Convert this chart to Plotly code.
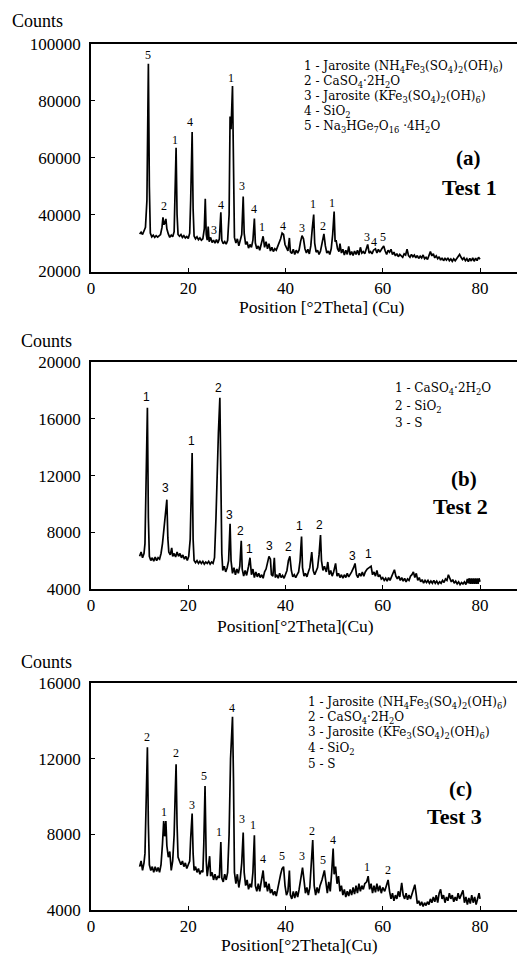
import plotly.graph_objects as go

W, H = 525, 955

# ---------------- Data: Test 1 (panel a) ----------------
a_x = [10.0, 10.3, 10.6, 10.9, 11.2, 11.5, 11.8, 12.0, 12.2, 12.5, 12.8, 13.1, 13.4, 13.7, 14.0, 14.3, 14.6, 14.8, 15.0, 15.2,
       15.4, 15.6, 15.9, 16.2, 16.5, 16.8, 17.1, 17.3, 17.5, 17.7, 17.9, 18.2, 18.5, 18.8, 19.1, 19.4, 19.7, 20.0, 20.3, 20.5,
       20.8, 21.0, 21.2, 21.5, 21.8, 22.1, 22.4, 22.7, 23.0, 23.3, 23.5, 23.7, 23.9, 24.1, 24.3, 24.6, 24.9, 25.2, 25.5, 25.8,
       26.1, 26.4, 26.7, 26.9, 27.2, 27.5, 27.8, 28.1, 28.4, 28.6, 28.8, 29.1, 29.3, 29.5, 29.8, 30.1, 30.4, 30.7, 31.0, 31.3,
       31.5, 31.8, 32.1, 32.4, 32.7, 33.0, 33.3, 33.6, 33.8, 34.1, 34.4, 34.7, 35.0, 35.4, 35.7, 36.0, 36.3, 36.6, 36.9, 37.2,
       37.5, 37.8, 38.1, 38.4, 38.7, 39.0, 39.3, 39.6, 39.9, 40.2, 40.5, 40.8, 41.0, 41.3, 41.6, 41.9, 42.2, 42.5, 42.8, 43.1,
       43.4, 43.7, 44.0, 44.3, 44.6, 44.9, 45.2, 45.5, 45.8, 46.0, 46.3, 46.6, 46.9, 47.2, 47.5, 47.9, 48.2, 48.5, 48.8, 49.1,
       49.4, 49.7, 50.0, 50.2, 50.4, 50.7, 51.0, 51.2, 51.5, 51.8, 52.1, 52.4, 52.7, 53.0, 53.3, 53.6, 53.9, 54.2, 54.5, 54.8,
       55.1, 55.4, 55.7, 56.0, 56.3, 56.6, 56.9, 57.2, 57.5, 57.8, 58.1, 58.5, 58.8, 59.1, 59.4, 59.8, 60.2, 60.5, 60.8, 61.1,
       61.4, 61.7, 62.0, 62.3, 62.6, 62.9, 63.2, 63.5, 63.8, 64.1, 64.4, 64.7, 65.0, 65.3, 65.6, 65.9, 66.2, 66.5, 66.8, 67.1,
       67.4, 67.7, 68.0, 68.3, 68.6, 68.9, 69.2, 69.5, 69.8, 70.1, 70.4, 70.7, 71.0, 71.3, 71.6, 71.9, 72.2, 72.5, 72.8, 73.1,
       73.4, 73.7, 74.0, 74.3, 74.6, 74.9, 75.2, 75.5, 75.8, 76.1, 76.4, 76.7, 77.0, 77.3, 77.6, 77.9, 78.2, 78.5, 78.8, 79.1,
       79.4, 79.7, 80.0]
a_y = [33200, 33800, 33000, 34200, 35500, 45000, 93000, 50000, 33500, 32200, 32800, 32000, 32600, 32100, 32500, 33000, 35500, 39000, 36500, 37000,
       38500, 35000, 33200, 32000, 32800, 32200, 34000, 48000, 63500, 40000, 33000, 32400, 33000, 32000, 32600, 31800, 32300, 31600, 33500, 45000,
       69000, 42000, 32500, 31500, 32200, 31200, 31800, 31000, 31500, 35000, 45600, 33000, 31000, 35800, 30500, 32000, 30200, 31000, 30000, 31200,
       30000, 31500, 40800, 31000, 29800, 30500, 29600, 31000, 40000, 74500, 70000, 85200, 55000, 32000, 30000, 31500, 29000, 31000, 33000, 46400,
       33500, 29500, 30500, 28200, 29500, 28500, 31000, 38600, 30000, 28000, 29000, 27500, 29500, 32400, 28500, 30500, 28000, 29800, 27200, 28500,
       27000, 28000, 27500, 28800, 30500, 31500, 33500, 33000, 29500, 28000, 27200, 31800, 27000, 26300, 27800, 26000, 27500, 26500, 27600, 30500,
       32600, 31500, 28000, 26500, 27800, 26200, 29000, 35000, 40000, 30000, 26800, 27500, 26000, 27200, 29500, 33200, 29000, 26500, 27200, 26000,
       28000, 33000, 41100, 30500, 31000, 28000, 27000, 29800, 26500, 27800, 25800, 27500, 26000, 28800, 25800, 27000, 25600, 27200, 26000, 27500,
       25800, 28500, 26500, 27000, 26200, 28000, 29500, 26500, 27000, 26200, 27500, 28000, 26500, 27800, 26800, 28000, 29000, 27200, 26000, 27500,
       26800, 27800, 26000, 26800, 25500, 26300, 25200, 26000, 25500, 25000, 26200, 25800, 27800, 25600, 25000, 26000, 25200, 25800, 24800, 25600,
       24600, 25400, 24800, 25800, 24500, 25000, 24200, 25500, 27000, 25500, 26200, 24800, 25500, 24500, 25200, 24000, 24800, 23800, 24600, 24000,
       24800, 23800, 24400, 23600, 24500, 23800, 24600, 25200, 26000, 25000, 24200, 24800, 23800, 24500, 23500, 24600, 23700, 24800, 23600, 24700,
       23800, 25000, 24300]
a_lab_x = [11.8, 15.0, 17.3, 20.4, 25.2, 26.7, 28.8, 31.1, 33.5, 35.1, 39.4, 43.3, 45.7, 47.8, 49.6, 56.7, 58.1, 60.0]
a_lab_y = [96100, 43200, 66300, 72700, 34700, 43500, 88000, 49900, 41800, 35700, 35900, 35400, 43900, 35900, 44200, 32200, 30300, 32200]
a_lab_t = ["5", "2", "1", "4", "3", "4", "1", "3", "4", "1", "4", "3", "1", "2", "1", "3", "4", "5"]
a_legend = ["1 - Jarosite (NH<sub>4</sub>Fe<sub>3</sub>(SO<sub>4</sub>)<sub>2</sub>(OH)<sub>6</sub>)",
            "2 - CaSO<sub>4</sub>·2H<sub>2</sub>O",
            "3 - Jarosite (KFe<sub>3</sub>(SO<sub>4</sub>)<sub>2</sub>(OH)<sub>6</sub>)",
            "4 - SiO<sub>2</sub>",
            "5 - Na<sub>3</sub>HGe<sub>7</sub>O<sub>16</sub> ·4H<sub>2</sub>O"]
a_ticks = [20000, 40000, 60000, 80000, 100000]

# ---------------- Data: Test 2 (panel b) ----------------
b_x = [10.0, 10.3, 10.6, 10.9, 11.1, 11.3, 11.6, 11.8, 12.0, 12.3, 12.6, 12.9, 13.2, 13.5, 13.8, 14.1, 14.4, 14.7, 15.0, 15.3,
       15.6, 15.8, 16.0, 16.3, 16.6, 16.8, 17.1, 17.4, 17.7, 18.0, 18.3, 18.6, 18.9, 19.2, 19.5, 19.8, 20.1, 20.4, 20.6, 20.8,
       21.0, 21.2, 21.5, 21.8, 22.1, 22.4, 22.7, 23.0, 23.3, 23.6, 23.9, 24.2, 24.5, 24.8, 25.1, 25.4, 25.7, 26.0, 26.2, 26.5,
       26.7, 26.9, 27.1, 27.4, 27.7, 28.0, 28.3, 28.6, 28.8, 29.1, 29.4, 29.7, 30.0, 30.3, 30.6, 30.9, 31.1, 31.4, 31.7, 32.0,
       32.4, 32.7, 33.0, 33.3, 33.6, 33.9, 34.2, 34.5, 34.8, 35.1, 35.4, 35.7, 36.0, 36.3, 36.6, 36.9, 37.1, 37.4, 37.7, 37.9,
       38.2, 38.5, 38.8, 39.1, 39.4, 39.7, 40.0, 40.3, 40.6, 40.9, 41.2, 41.5, 41.8, 42.1, 42.4, 42.7, 43.0, 43.3, 43.5, 43.8,
       44.1, 44.4, 44.7, 45.0, 45.4, 45.7, 46.0, 46.3, 46.6, 46.9, 47.2, 47.4, 47.7, 48.0, 48.4, 48.7, 49.0, 49.3, 49.6, 49.9,
       50.3, 50.6, 50.9, 51.2, 51.5, 51.8, 52.1, 52.4, 52.7, 53.0, 53.3, 53.6, 54.0, 54.3, 54.6, 54.9, 55.2, 55.5, 55.8, 56.1,
       56.4, 56.8, 57.2, 57.6, 57.9, 58.2, 58.5, 58.8, 59.1, 59.4, 59.7, 60.0, 60.3, 60.6, 60.9, 61.2, 61.5, 61.8, 62.1, 62.4,
       62.7, 63.0, 63.3, 63.6, 63.9, 64.2, 64.5, 64.8, 65.1, 65.4, 65.7, 66.0, 66.3, 66.6, 66.9, 67.2, 67.5, 67.8, 68.1, 68.4,
       68.7, 69.0, 69.3, 69.6, 69.9, 70.2, 70.5, 70.8, 71.1, 71.4, 71.7, 72.0, 72.3, 72.6, 72.9, 73.2, 73.5, 73.8, 74.1, 74.4,
       74.7, 75.0, 75.3, 75.6, 75.9, 76.2, 76.5, 76.8, 77.1, 77.4, 77.6, 77.8, 78.0, 78.2, 78.4, 78.6, 78.8, 79.0, 79.2, 79.4,
       79.6, 79.8, 80.0]
b_y = [6300, 6600, 6200, 6500, 7200, 11000, 16800, 9000, 6300, 6000, 6200, 5950, 6250, 6000, 6200, 6100, 6500, 7200, 8200, 9000,
       10300, 7600, 6600, 6400, 6900, 6300, 6500, 6250, 6600, 6300, 6500, 6200, 6400, 6100, 6300, 6000, 6300, 7500, 10500, 13600,
       7500, 6000, 5850, 6000, 5800, 5950, 5800, 5950, 5750, 5900, 5800, 5950, 5750, 5900, 5800, 6200, 9000, 14000, 15000, 17500,
       11000, 6500, 5300, 5600, 5200, 5500, 6000, 8600, 6000, 5100, 5500, 5000, 5400, 5100, 5600, 7400, 5400, 4900, 5300, 4950,
       5600, 6200, 5000, 5400, 4800, 5200, 4850, 5100, 4800, 5000, 4750, 5200, 5400, 5800, 6300, 6100, 5000, 4900, 6200, 4800,
       5000, 4750, 5100, 4800, 4950, 4750, 5000, 5300, 6000, 6300, 5300, 4850, 5000, 4800, 5000, 5200, 6000, 7700, 5500, 4900,
       5100, 4850, 5200, 5500, 6600, 5300, 5000, 5200, 5500, 6400, 7800, 6000, 5300, 5600, 5200, 5900, 5000, 5300, 4900, 5200,
       5800, 4900, 5100, 4800, 5000, 4750, 5000, 4800, 5100, 4850, 5000, 5200, 5500, 5800, 5000, 4800, 5100, 4900, 5200, 4900,
       5200, 5400, 5500, 5600, 5000, 5200, 4900, 5300, 4850, 5000, 4700, 4800, 4600, 4750, 4550, 4800, 4600, 4900, 5100, 5350,
       4900, 4700, 4900, 4600, 4800, 4550, 4750, 4500, 4700, 4600, 4900, 5000, 5200, 4800, 5100, 4600, 4800, 4500, 4650, 4400,
       4600, 4450, 4600, 4400, 4550, 4400, 4600, 4400, 4550, 4350, 4500, 4400, 4600, 4450, 4700, 4600, 5000, 4700, 4500, 4650,
       4400, 4550, 4350, 4500, 4300, 4450, 4350, 4500, 4300, 4700, 4400, 4750, 4350, 4750, 4350, 4750, 4350, 4750, 4350, 4750,
       4350, 4750, 4500]
b_lab_x = [11.5, 15.4, 20.7, 26.3, 28.5, 30.7, 32.6, 36.7, 40.7, 42.8, 47.0, 53.8, 57.0]
b_lab_y = [17530, 11110, 14470, 18170, 9220, 8120, 6820, 7060, 6940, 8470, 8540, 6310, 6470]
b_lab_t = ["1", "3", "1", "2", "3", "2", "1", "3", "2", "1", "2", "3", "1"]
b_legend = ["1 - CaSO<sub>4</sub>·2H<sub>2</sub>O",
            "2 - SiO<sub>2</sub>",
            "3 - S"]
b_ticks = [4000, 8000, 12000, 16000, 20000]

# ---------------- Data: Test 3 (panel c) ----------------
c_x = [10.0, 10.3, 10.6, 10.9, 11.1, 11.3, 11.6, 11.8, 12.0, 12.3, 12.6, 12.9, 13.2, 13.5, 13.8, 14.1, 14.4, 14.7, 14.95, 15.15,
       15.4, 15.6, 15.9, 16.2, 16.5, 16.8, 17.1, 17.3, 17.5, 17.7, 17.9, 18.2, 18.5, 18.8, 19.1, 19.4, 19.7, 20.0, 20.3, 20.5,
       20.8, 21.0, 21.2, 21.5, 21.8, 22.1, 22.4, 22.7, 23.0, 23.2, 23.45, 23.7, 23.9, 24.1, 24.4, 24.6, 24.9, 25.2, 25.5, 25.8,
       26.1, 26.4, 26.7, 26.9, 27.2, 27.5, 27.8, 28.1, 28.4, 28.7, 29.1, 29.3, 29.5, 29.8, 30.1, 30.4, 30.7, 31.0, 31.3, 31.5,
       31.8, 32.1, 32.4, 32.7, 33.0, 33.3, 33.6, 33.8, 34.1, 34.4, 34.7, 35.0, 35.4, 35.7, 36.0, 36.3, 36.6, 36.9, 37.2, 37.5,
       37.8, 38.1, 38.4, 38.7, 39.0, 39.3, 39.6, 39.9, 40.2, 40.5, 40.8, 41.0, 41.3, 41.6, 41.9, 42.2, 42.5, 42.8, 43.1, 43.5,
       43.8, 44.1, 44.4, 44.7, 45.0, 45.3, 45.6, 45.9, 46.2, 46.5, 46.8, 47.1, 47.5, 48.0, 48.3, 48.6, 48.9, 49.2, 49.5, 49.8,
       50.0, 50.3, 50.6, 50.9, 51.2, 51.5, 51.8, 52.1, 52.4, 52.7, 53.0, 53.3, 53.6, 53.9, 54.2, 54.5, 54.8, 55.1, 55.4, 55.7,
       56.0, 56.3, 56.7, 57.0, 57.3, 57.6, 57.9, 58.2, 58.5, 58.8, 59.1, 59.4, 59.7, 60.0, 60.4, 60.8, 61.1, 61.4, 61.7, 62.0,
       62.3, 62.6, 62.9, 63.2, 63.5, 63.9, 64.2, 64.5, 64.8, 65.1, 65.4, 65.7, 66.0, 66.3, 66.6, 66.9, 67.1, 67.4, 67.7, 68.0,
       68.3, 68.6, 68.9, 69.2, 69.5, 69.8, 70.1, 70.4, 70.7, 71.0, 71.3, 71.6, 71.9, 72.2, 72.5, 72.8, 73.1, 73.4, 73.7, 74.0,
       74.3, 74.6, 74.9, 75.2, 75.5, 75.8, 76.1, 76.5, 76.8, 77.1, 77.4, 77.7, 78.0, 78.3, 78.6, 78.9, 79.2, 79.5, 79.8, 80.0]
c_y = [6300, 6600, 6100, 6500, 7000, 9500, 12600, 8500, 6400, 6100, 6300, 6000, 6300, 6050, 6250, 6000, 6400, 7500, 8700, 7900,
       8700, 7400, 6800, 7100, 6100, 6600, 8000, 10000, 11700, 8500, 6800, 6600, 6400, 6600, 6300, 6500, 6200, 6400, 6600, 7800,
       9100, 7000, 6100, 6300, 6000, 6200, 5900, 6100, 6000, 7500, 10550, 6600, 5800, 6200, 6850, 5800, 6000, 5600, 5900, 5600,
       5800, 5700, 7600, 5700, 5500, 5900, 5600, 6000, 8000, 12000, 14200, 11000, 6000, 5400, 5900, 5200, 5700, 6500, 8100, 6000,
       5300, 5600, 5100, 5400, 5200, 6000, 7950, 5300, 5000, 5400, 5000, 5500, 6100, 5200, 5500, 5000, 5400, 4900, 5100, 4800,
       5000, 4750, 5200, 5600, 5900, 6200, 6300, 5300, 4800, 5000, 6100, 4800, 4600, 5000, 4650, 5000, 4700, 5100, 5700, 6250,
       5600, 4900, 5200, 4800, 5200, 6300, 7700, 5300, 4800, 5200, 4900, 5300, 5600, 6100, 5300, 4900, 5500, 5000, 6000, 7250,
       5900, 6300, 5400, 5800, 5000, 5300, 4800, 5100, 4700, 5000, 4750, 5100, 4800, 5200, 4850, 5300, 4900, 5400, 5000, 5300,
       5100, 5400, 5500, 5800, 5100, 5400, 4900, 5300, 4950, 5400, 5000, 5300, 4900, 5200, 5000, 5400, 5600, 5000, 4600, 4900,
       4500, 4800, 4600, 5000, 4700, 5450, 4800, 4600, 4900, 4550, 4800, 4600, 4900, 5100, 5350, 4800, 4350, 4500, 4250, 4450,
       4200, 4400, 4250, 4450, 4300, 4600, 4400, 4700, 4450, 4800, 4400, 4900, 5100, 4600, 4800, 4400, 4700, 4500, 4900, 4600,
       4800, 4450, 4700, 4500, 4900, 4600, 4800, 5050, 4400, 4700, 4300, 4650, 4350, 4800, 4400, 4700, 4300, 4600, 4900, 4600]
c_lab_x = [11.5, 15.1, 17.5, 20.8, 23.3, 26.4, 28.9, 31.0, 33.4, 35.3, 39.2, 43.3, 45.4, 47.8, 49.7, 56.7, 61.0]
c_lab_y = [13150, 9200, 12300, 9550, 11100, 8150, 14690, 8800, 8500, 6700, 6840, 6840, 8200, 6660, 7710, 6280, 6130]
c_lab_t = ["2", "1", "2", "3", "5", "1", "4", "3", "1", "4", "5", "3", "2", "5", "4", "1", "2"]
c_legend = ["1 - Jarosite (NH<sub>4</sub>Fe<sub>3</sub>(SO<sub>4</sub>)<sub>2</sub>(OH)<sub>6</sub>)",
            "2 - CaSO<sub>4</sub>·2H<sub>2</sub>O",
            "3 - Jarosite (KFe<sub>3</sub>(SO<sub>4</sub>)<sub>2</sub>(OH)<sub>6</sub>)",
            "4 - SiO<sub>2</sub>",
            "5 - S"]
c_ticks = [4000, 8000, 12000, 16000]

x_ticks = [0, 20, 40, 60, 80]

# ---------------- Figure ----------------
SERIF = "Liberation Serif"
WIDE_SERIF = "DejaVu Serif"
SANS = "Liberation Sans"

# empirical correction between requested pixel positions and the photographed page
OX, OY, SY = 7.0, 17.0, 0.982
ML = 90 - OX  # left margin so the y-axis lands at x = 90


def X(v):
    return v - OX


def Y(v):
    return (v - OY) / SY


def px(v):
    # target picture pixel x -> paper x (paper spans the plot area between the margins)
    return (X(v) - ML) / (W - ML)


def py(v):
    return 1 - Y(v) / H


fig = go.Figure()
for i, (xs, ys) in enumerate([(a_x, a_y), (b_x, b_y), (c_x, c_y)]):
    suf = "" if i == 0 else str(i + 1)
    fig.add_trace(go.Scatter(x=xs, y=ys, mode="lines",
                             line=dict(color="black", width=1.7),
                             xaxis="x" + suf, yaxis="y" + suf,
                             hoverinfo="skip", showlegend=False))

tickfont = dict(family=SERIF, size=17, color="black")
x_span = (W - ML) / 4.8625
xbase = dict(range=[0, x_span], tickvals=x_ticks, ticktext=[str(t) for t in x_ticks],
             showline=True, linecolor="black", linewidth=1.6, mirror=True,
             ticks="inside", ticklen=4, tickcolor="black", tickwidth=1,
             showgrid=False, zeroline=False, tickfont=tickfont, fixedrange=True)
ybase = dict(showline=True, linecolor="black", linewidth=1.6, mirror=False,
             ticks="inside", ticklen=4, tickcolor="black", tickwidth=1,
             ticklabelstandoff=5,
             showgrid=False, zeroline=False, tickfont=tickfont, fixedrange=True)

# plot-area pixel bounds (top, bottom) in target picture pixels
panels = [(44, 272), (363, 590), (684, 912)]
ranges = [[20000, 100000], [4000, 20000], [4000, 16000]]
tick_sets = [a_ticks, b_ticks, c_ticks]

layout = dict(width=W, height=H, margin=dict(l=ML, r=0, t=0, b=0),
              paper_bgcolor="white", plot_bgcolor="white", showlegend=False)
for i in range(3):
    suf = "" if i == 0 else str(i + 1)
    top, bot = panels[i]
    layout["xaxis" + suf] = dict(xbase, domain=[0, 1], anchor="y" + suf)
    layout["yaxis" + suf] = dict(ybase, domain=[py(bot), py(top)], anchor="x" + suf,
                                 range=ranges[i], tickvals=tick_sets[i],
                                 ticktext=[str(t) for t in tick_sets[i]])
fig.update_layout(**layout)

ann = []
# Peak labels
for i, (lx, ly, lt, fam) in enumerate([(a_lab_x, a_lab_y, a_lab_t, SERIF),
                                        (b_lab_x, b_lab_y, b_lab_t, SANS),
                                        (c_lab_x, c_lab_y, c_lab_t, SERIF)]):
    suf = "" if i == 0 else str(i + 1)
    for x, y, t in zip(lx, ly, lt):
        ann.append(dict(x=x, y=y, xref="x" + suf, yref="y" + suf, text=t, showarrow=False,
                        xanchor="center", yanchor="middle",
                        font=dict(family=fam, size=12, color="black")))

# Legend text blocks
for lines, x0, ys in [(a_legend, 301, [67, 82, 97, 112, 127]),
                      (b_legend, 392, [390, 407.5, 423.5]),
                      (c_legend, 305, [704, 719, 734.5, 750, 765.5])]:
    for t, yy in zip(lines, ys):
        ann.append(dict(x=px(x0), y=py(yy), xref="paper", yref="paper", text=t, showarrow=False,
                        xanchor="left", yanchor="middle",
                        font=dict(family=WIDE_SERIF, size=12, color="black")))

# Panel tags
for t, x, y, s in [("(a)", 467, 158, 21), ("Test 1", 468, 188, 22),
                   ("(b)", 463, 480, 21), ("Test 2", 459, 507, 22),
                   ("(c)", 459, 790, 21), ("Test 3", 453, 818, 22)]:
    ann.append(dict(x=px(x), y=py(y), xref="paper", yref="paper", text="<b>" + t + "</b>",
                    showarrow=False, xanchor="center", yanchor="middle",
                    font=dict(family=SERIF, size=s, color="black")))

# "Counts" labels
for x, y in [(9, 21), (18, 342), (18, 663)]:
    ann.append(dict(x=px(x), y=py(y), xref="paper", yref="paper", text="Counts",
                    showarrow=False, xanchor="left", yanchor="middle",
                    font=dict(family=SERIF, size=18, color="black")))

# x-axis titles
for t, x, y in [("Position [°2Theta] (Cu)", 321, 308),
                ("Position[°2Theta](Cu)", 294, 627),
                ("Position[°2Theta](Cu)", 298, 947)]:
    ann.append(dict(x=px(x), y=py(y), xref="paper", yref="paper", text=t,
                    showarrow=False, xanchor="center", yanchor="middle",
                    font=dict(family=SERIF, size=17.5, color="black")))

fig.update_layout(annotations=ann)
fig.write_html("out.html")
